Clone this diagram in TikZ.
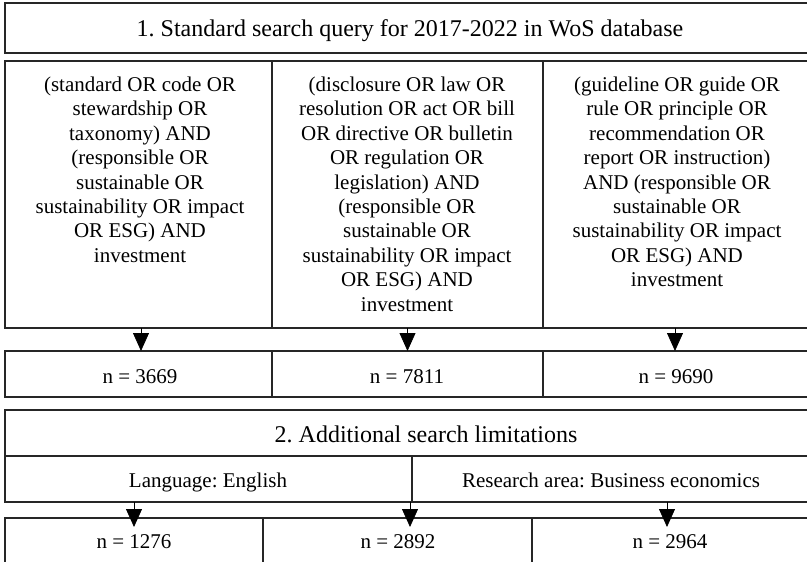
\documentclass[tikz,border=0pt]{standalone}
\usepackage{fontspec}
\setmainfont{Liberation Serif}
\usetikzlibrary{arrows.meta}
\frenchspacing
\begin{document}
\begin{tikzpicture}[x=1pt,y=-1pt,
  cell/.style={draw=black!85, line width=1.2pt, inner sep=0pt, outer sep=0pt},
  lbl/.style={font=\fontsize{21}{24.4}\selectfont, inner sep=0pt, outer sep=0pt, anchor=base},
  hlbl/.style={font=\fontsize{24}{28}\selectfont, inner sep=0pt, outer sep=0pt, anchor=base},
  qtext/.style={font=\fontsize{21}{24.4}\selectfont, inner sep=0pt, outer sep=0pt, align=center, anchor=north},
  flow/.style={draw=black, line width=0.8pt, -{Triangle[width=16pt,length=18pt]}}]
\useasboundingbox (0,0) rectangle (807,562);
% boxes
\node[cell, minimum width=807pt, minimum height=50pt] (h1) at (408.5,28) {};
\node[cell, minimum width=267pt, minimum height=267pt] (q1) at (138.5,194.5) {};
\node[cell, minimum width=271pt, minimum height=267pt] (q2) at (407.5,194.5) {};
\node[cell, minimum width=269pt, minimum height=267pt] (q3) at (677.5,194.5) {};
\node[cell, minimum width=267pt, minimum height=46pt] (n1) at (138.5,374) {};
\node[cell, minimum width=271pt, minimum height=46pt] (n2) at (407.5,374) {};
\node[cell, minimum width=269pt, minimum height=46pt] (n3) at (677.5,374) {};
\node[cell, minimum width=807pt, minimum height=46pt] (h2) at (408.5,433) {};
\node[cell, minimum width=407pt, minimum height=46pt] (s1) at (208.5,479) {};
\node[cell, minimum width=400pt, minimum height=46pt] (s2) at (612,479) {};
\node[cell, minimum width=258pt, minimum height=60pt] (b1) at (134,548) {};
\node[cell, minimum width=269pt, minimum height=60pt] (b2) at (397.5,548) {};
\node[cell, minimum width=280pt, minimum height=60pt] (b3) at (672,548) {};
% texts
\node[hlbl] (t1) at (410,36) {1. Standard search query for 2017-2022 in WoS database};
\node[qtext] (tq1) at (140,77) {(standard OR code OR\\stewardship OR\\taxonomy) AND\\(responsible OR\\sustainable OR\\sustainability OR impact\\OR ESG) AND\\investment};
\node[qtext] (tq2) at (407,77) {(disclosure OR law OR\\resolution OR act OR bill\\OR directive OR bulletin\\OR regulation OR\\legislation) AND\\(responsible OR\\sustainable OR\\sustainability OR impact\\OR ESG) AND\\investment};
\node[qtext] (tq3) at (677,77) {(guideline OR guide OR\\rule OR principle OR\\recommendation OR\\report OR instruction)\\AND (responsible OR\\sustainable OR\\sustainability OR impact\\OR ESG) AND\\investment};
\node[lbl] (tn1) at (140,383) {n = 3669};
\node[lbl] (tn2) at (407,383) {n = 7811};
\node[lbl] (tn3) at (676,383) {n = 9690};
\node[hlbl] (t2) at (426,442) {2. Additional search limitations};
\node[lbl] (ts1) at (208,487) {Language: English};
\node[lbl] (ts2) at (611,487) {Research area: Business economics};
\node[lbl] (tb1) at (134,548) {n = 1276};
\node[lbl] (tb2) at (398,548) {n = 2892};
\node[lbl] (tb3) at (670,548) {n = 2964};
% arrows
\draw[flow] ([xshift=2.5pt]q1.south) -- ([xshift=2.5pt]n1.north);
\draw[flow] (q2.south) -- (n2.north);
\draw[flow] ([xshift=-2.5pt]q3.south) -- ([xshift=-2.5pt]n3.north);
\draw[flow, shorten >=-9pt] (s1.south -| b1.north) -- (b1.north);
\draw[flow, shorten >=-9pt] ([xshift=-2pt]s2.south west) -- ([xshift=-2pt]s2.south west |- b2.north);
\draw[flow, shorten >=-9pt] ([xshift=-5pt]s2.south -| b3.north) -- ([xshift=-5pt]b3.north);
\end{tikzpicture}
\end{document}
